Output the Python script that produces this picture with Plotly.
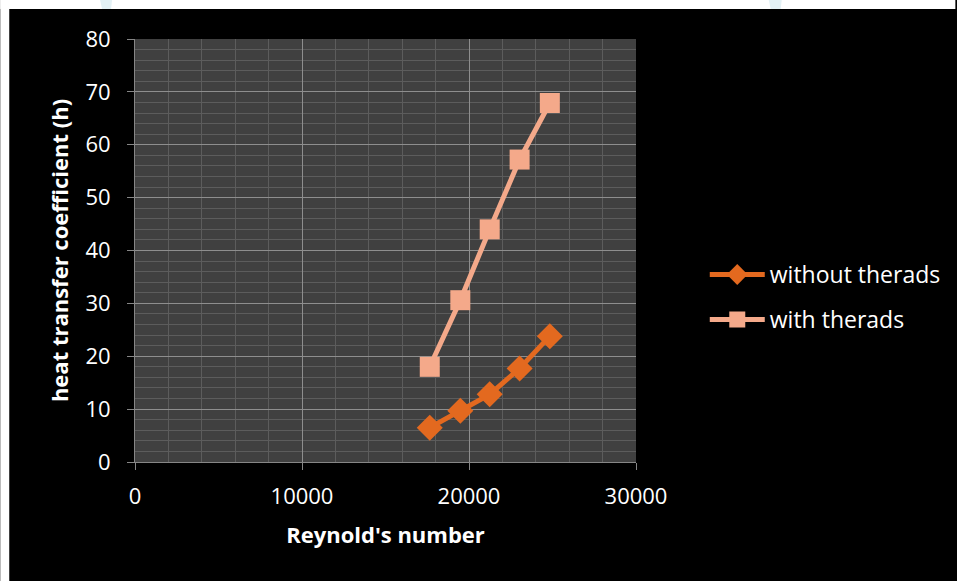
import plotly.graph_objects as go

# Reynold's number at each test point
reynolds = [17650, 19480, 21240, 23030, 24840]
# heat transfer coefficient h
h_without_threads = [6.5, 9.7, 12.8, 17.7, 23.8]
h_with_threads = [18.0, 30.6, 44.0, 57.2, 67.9]

series_names = ["without therads", "with therads"]
x_ticks = [0, 10000, 20000, 30000]

FONT = "Open Sans"
WHITE = "#ffffff"
DARK_ORANGE = "#e3691f"
LIGHT_ORANGE = "#f4a98a"

fig = go.Figure()

fig.add_trace(go.Scatter(
    x=reynolds, y=h_without_threads, name=series_names[0],
    mode="lines+markers", legendgroup="a",
    line=dict(color=DARK_ORANGE, width=5),
    marker=dict(symbol="diamond", size=20, color=DARK_ORANGE),
))
fig.add_trace(go.Scatter(
    x=reynolds, y=h_with_threads, name=series_names[1],
    mode="lines+markers", legendgroup="b",
    line=dict(color=LIGHT_ORANGE, width=5),
    marker=dict(symbol="square", size=20, color=LIGHT_ORANGE),
))

# white page border along the top and left of the black panel
PW, PH = 502, 423  # plot area size in px
def px(x):
    return (x - 135) / PW
def py(y):
    return (462 - y) / PH

fig.add_shape(type="rect", xref="paper", yref="paper",
              x0=px(0), x1=px(957), y0=py(9), y1=py(0),
              fillcolor="#ffffff", line=dict(width=0), layer="below")
fig.add_shape(type="rect", xref="paper", yref="paper",
              x0=px(0), x1=px(9), y0=py(581), y1=py(0),
              fillcolor="#ffffff", line=dict(width=0), layer="below")
# faint pale marks on the top border
for x0, x1 in [(100, 112), (770, 783)]:
    fig.add_shape(type="path", xref="paper", yref="paper",
                  path=f"M {px(x0)},{py(0)} L {px(x1)},{py(0)} "
                       f"L {px(x1 - 1)},{py(9)} L {px(x0 + 2)},{py(9)} Z",
                  fillcolor="#e3f1f5", line=dict(width=0), layer="below")

fig.update_layout(
    width=957, height=581,
    margin=dict(l=135, r=320, t=39, b=119),
    paper_bgcolor="#000000",
    plot_bgcolor="#404040",
    font=dict(family=FONT, color=WHITE, size=21),
    showlegend=True,
    legend=dict(
        x=1.135, y=0.39, xanchor="left", yanchor="middle",
        bgcolor="rgba(0,0,0,0)", font=dict(size=23, color=WHITE, family=FONT),
        itemwidth=55, tracegroupgap=12,
    ),
    xaxis=dict(
        range=[0, 30000], tickvals=x_ticks, ticktext=[str(v) for v in x_ticks],
        showgrid=True, gridcolor="#8e8e8e", gridwidth=1,
        minor=dict(dtick=2000, showgrid=True, gridcolor="#5c5c5c", gridwidth=1),
        showline=True, linecolor="#868686", linewidth=1,
        ticks="outside", ticklen=7, tickcolor="#868686",
        ticklabelstandoff=8,
        tickfont=dict(size=22, color=WHITE, family=FONT),
        zeroline=False,
        title=dict(text="<b>Reynold's number</b>", font=dict(size=22, color=WHITE, family=FONT),
                   standoff=18),
    ),
    yaxis=dict(
        range=[0, 80], dtick=10,
        showgrid=True, gridcolor="#8e8e8e", gridwidth=1,
        minor=dict(dtick=2, showgrid=True, gridcolor="#5c5c5c", gridwidth=1),
        showline=True, linecolor="#868686", linewidth=1,
        ticks="outside", ticklen=7, tickcolor="#868686",
        ticklabelstandoff=12,
        tickfont=dict(size=22, color=WHITE, family=FONT),
        zeroline=False,
        title=dict(text="<b>heat transfer coefficient (h)</b>",
                   font=dict(size=22, color=WHITE, family=FONT), standoff=10),
    ),
)

fig.write_html("out.html")
